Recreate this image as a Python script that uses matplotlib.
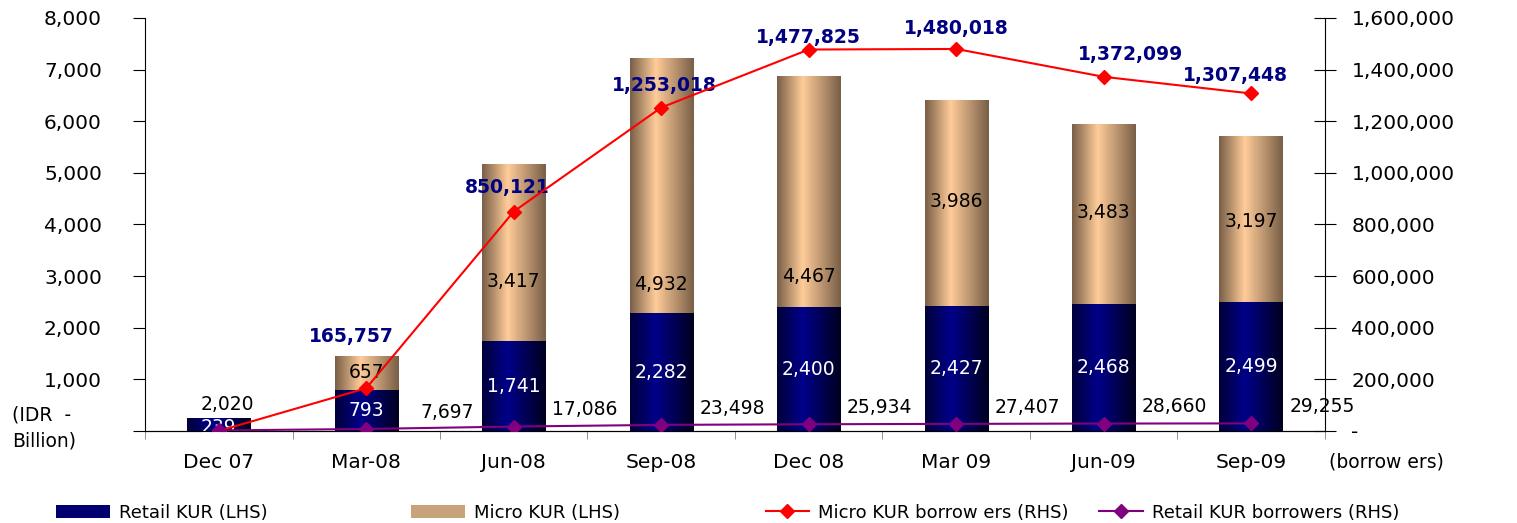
import numpy as np
import matplotlib
matplotlib.use('Agg')
import matplotlib.pyplot as plt
from matplotlib.colors import LinearSegmentedColormap
from matplotlib.lines import Line2D
from matplotlib.patches import Patch

plt.rcParams['font.family'] = ['DejaVu Sans']

# Datos
periods = ['Dec 07', 'Mar-08', 'Jun-08', 'Sep-08', 'Dec 08', 'Mar 09', 'Jun-09', 'Sep-09']
retail_kur = [239, 793, 1741, 2282, 2400, 2427, 2468, 2499]
micro_kur = [0, 657, 3417, 4932, 4467, 3986, 3483, 3197]
micro_borrowers = [0, 165757, 850121, 1253018, 1477825, 1480018, 1372099, 1307448]
retail_borrowers = [2020, 7697, 17086, 23498, 25934, 27407, 28660, 29255]
left_ticks = [0, 1000, 2000, 3000, 4000, 5000, 6000, 7000, 8000]
right_ticks = [0, 200000, 400000, 600000, 800000, 1000000, 1200000, 1400000, 1600000]

# posicion vertical de las etiquetas micro (unidades del eje izquierdo)
micro_lbl_y = [None, 1140, 2890, 2830, 3000, 4440, 4240, 4050]

def grad_fill(ax, bars, dark, light, dark2):
    cmap = LinearSegmentedColormap.from_list('g', [(0, dark), (0.4, light), (1, dark2)])
    for b in bars:
        x, y = b.get_x(), b.get_y()
        w, h = b.get_width(), b.get_height()
        if h <= 0:
            continue
        b.set_facecolor('none')
        ax.imshow(np.linspace(0, 1, 64).reshape(1, -1), cmap=cmap, aspect='auto',
                  extent=[x, x + w, y, y + h], zorder=1, interpolation='bilinear')

fig = plt.figure(figsize=(15.17, 5.23), dpi=100)
ax = fig.add_axes([0.0956, 0.176, 0.7778, 0.7896])
ax2 = ax.twinx()

x = np.arange(len(periods))
w = 0.43
b1 = ax.bar(x, retail_kur, w, color='#000080', zorder=1)
b2 = ax.bar(x, micro_kur, w, bottom=retail_kur, color='#ffcc99', zorder=1)
grad_fill(ax, b1, '#00003a', '#00008a', '#000020')
grad_fill(ax, b2, '#7a6048', '#ffcc99', '#7a6048')

ax.set_xlim(-0.5, len(periods) - 0.5)
ax.set_ylim(0, 8000)
ax.set_yticks(left_ticks)
ax.set_yticklabels([''] + [f'{v:,}' for v in left_ticks[1:]], fontsize=14.5)
ax.tick_params(axis='y', direction='out', length=9, pad=22)
ax.set_xticks(x)
ax.set_xticklabels(periods, fontsize=14.5)
ax.tick_params(axis='x', length=0, pad=16)
ax.set_xticks(np.arange(-0.5, len(periods)), minor=True)
ax.tick_params(axis='x', which='minor', direction='out', length=6, color='#808080')
ax.spines['top'].set_visible(False)
ax.spines['right'].set_visible(False)

for i in range(len(periods)):
    ax.text(x[i], retail_kur[i] / 2 if i > 0 else retail_kur[i] * 0.3,
            f'{retail_kur[i]:,}', ha='center', va='center', color='white', fontsize=13.5, zorder=5)
    if micro_kur[i] > 0:
        ax.text(x[i], micro_lbl_y[i], f'{micro_kur[i]:,}', ha='center', va='center',
                color='black', fontsize=13.5, zorder=5)

ax2.plot(x, micro_borrowers, color='red', marker='D', markersize=7, linewidth=1.5, zorder=4)
ax2.plot(x, retail_borrowers, color='#800080', marker='D', markersize=7, linewidth=1.5, zorder=4)
ax2.set_ylim(0, 1600000)
ax2.set_yticks(right_ticks)
ax2.set_yticklabels(['-'] + [f'{v:,}' for v in right_ticks[1:]], fontsize=14.5)
ax2.tick_params(axis='y', direction='inout', length=16, pad=11)
ax2.spines['top'].set_visible(False)
ax2.spines['left'].set_visible(False)

mb_off = [None, (-11, 37), (-5, 17), (2, 16), (0, 9), (0, 15), (19, 16), (-11, 13)]
for i in range(1, len(periods)):
    ax2.annotate(f'{micro_borrowers[i]:,}', (x[i], micro_borrowers[i]), xytext=mb_off[i],
                 textcoords='offset points', ha='center', va='center', color='#000080',
                 fontsize=13.5, fontweight='bold')

for i in range(len(periods)):
    if i == 0:
        ax2.annotate(f'{retail_borrowers[i]:,}', (x[i], retail_borrowers[i]), xytext=(6, 19),
                     textcoords='offset points', ha='center', va='center', fontsize=13.5)
    else:
        dx = 58 if i == 1 else 51
        ax2.annotate(f'{retail_borrowers[i]:,}', (x[i], retail_borrowers[i]), xytext=(dx, 12),
                     textcoords='offset points', ha='center', va='center', fontsize=13.5)

fig.text(0.008, 0.182, '(IDR  -\nBillion)', fontsize=13.5, va='center', ha='left', linespacing=1.45)
fig.text(0.876, 0.117, '(borrow ers)', fontsize=13.5, va='center', ha='left')

# leyenda
handles = [Patch(facecolor='#000070', label='Retail KUR (LHS)'),
           Patch(facecolor='#c8a27a', label='Micro KUR (LHS)'),
           Line2D([], [], color='red', marker='D', markersize=7, label='Micro KUR borrow ers (RHS)'),
           Line2D([], [], color='#800080', marker='D', markersize=7, label='Retail KUR borrowers (RHS)')]
xs = [0.026, 0.26, 0.494, 0.714]
hl = [3.0, 3.0, 2.4, 2.4]
for h, xx, l in zip(handles, xs, hl):
    fig.legend(handles=[h], loc='center left', bbox_to_anchor=(xx, 0.02), frameon=False,
               fontsize=13, handlelength=l, handleheight=0.75, handletextpad=0.5)

fig.savefig('out.png', dpi=100)
